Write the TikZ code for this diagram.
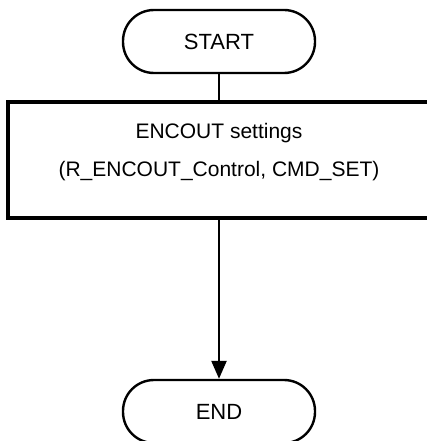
\documentclass[tikz,border=0pt]{standalone}
\usepackage{fontspec}
\setmainfont{Liberation Sans}
\usetikzlibrary{arrows.meta}
\tikzset{
  terminal/.style={draw,line width=2.4pt,rounded corners=31pt,minimum width=192pt,minimum height=63pt,inner sep=0pt},
  process/.style={draw,line width=3.2pt,minimum width=422pt,minimum height=116pt,inner sep=0pt},
  flow/.style={line width=2.4pt},
}
\begin{document}
\begin{tikzpicture}[x=1pt,y=-1pt,font=\fontsize{21}{38}\selectfont]
                      \useasboundingbox (0,0) rectangle (427,441);
                      \node[terminal,font=\fontsize{22}{26}\selectfont] (start) at (219,41.5) {START};
                      \node[process] (setbox) at (219,160) {};
                      \node[align=center,inner sep=0pt] (setlbl) at (219,152) {ENCOUT settings\\(R\_ENCOUT\_Control, CMD\_SET)};
                      \node[terminal,font=\fontsize{22}{26}\selectfont] (end) at (219,411.5) {END};
                      \draw[flow] (start) -- (setbox);
                      \draw[flow,-{Triangle[length=18pt,width=15pt]}] (setbox) -- (end);
                  \end{tikzpicture}
\end{document}
